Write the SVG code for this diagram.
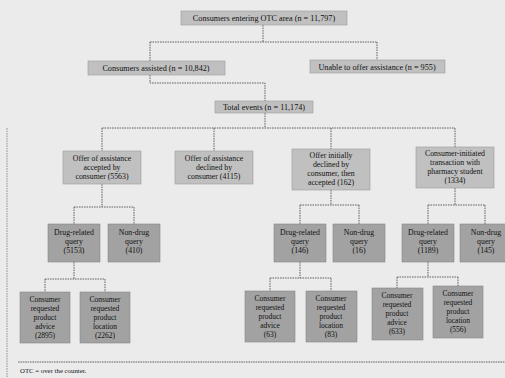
<svg xmlns="http://www.w3.org/2000/svg" width="505" height="378" viewBox="0 0 505 378">
<style>
.bg{fill:#ebebeb}
.b1{fill:#c0c0c0;stroke:#9a9a9a;stroke-width:0.6}
.b2{fill:#a2a2a2;stroke:#888;stroke-width:0.6}
.c{fill:none;stroke:#555;stroke-width:0.9;stroke-dasharray:1.6 0.9}
text{font-family:"Liberation Serif","Times New Roman",serif;fill:#111;text-anchor:middle}
.t8{font-size:8.2px}
.t7{font-size:7.8px}
.t6{font-size:7.5px}
.fn{font-size:6.8px;text-anchor:start}
</style>
<rect class="bg" x="0" y="0" width="505" height="378"/>
<g id="connectors">
<path class="c" d="M263,25 V42 M150,42 H377 M150,42 V61 M377,42 V60"/>
<path class="c" d="M150,75 V83 H265 V101"/>
<path class="c" d="M265,113 V128 M102,128 H455 M102,128 V151 M214,128 V151 M331,128 V149 M455,128 V147"/>
<path class="c" d="M102,184 V207 M74,207 H134 M74,207 V224 M134,207 V224"/>
<path class="c" d="M331,190 V205 M300,205 H359 M300,205 V224 M359,205 V224"/>
<path class="c" d="M455,188 V205 M428,205 H485 M428,205 V224 M485,205 V224"/>
<path class="c" d="M74,262 V279 M45,279 H105 M45,279 V292 M105,279 V292"/>
<path class="c" d="M300,262 V278 M270,278 H331 M270,278 V291 M331,278 V291"/>
<path class="c" d="M428,262 V277 M397,277 H458 M397,277 V288 M458,277 V286"/>
</g>
<g id="frame">
<line x1="7" y1="128" x2="7" y2="378" stroke="#777" stroke-width="0.8" stroke-dasharray="1.5 1"/>
<line x1="18" y1="362" x2="505" y2="362" stroke="#555" stroke-width="0.9" stroke-dasharray="1.6 0.8"/>
</g>
<g id="n-entering"><rect class="b1" x="181" y="11" width="166" height="14"/><text class="t8" x="264" y="21">Consumers entering OTC area (n = 11,797)</text></g>
<g id="n-assisted"><rect class="b1" x="88" y="61" width="137" height="14"/><text class="t8" x="156" y="71">Consumers assisted (n = 10,842)</text></g>
<g id="n-unable"><rect class="b1" x="310" y="60" width="135" height="13"/><text class="t8" x="377" y="69.5">Unable to offer assistance (n = 955)</text></g>
<g id="n-total"><rect class="b1" x="215" y="101" width="98" height="12"/><text class="t8" x="264" y="110">Total events (n = 11,174)</text></g>

<g id="n-accepted"><rect class="b1" x="63" y="151" width="78" height="33"/>
<text class="t7" x="102" y="161">Offer of assistance</text><text class="t7" x="102" y="170">accepted by</text><text class="t7" x="102" y="179">consumer (5563)</text></g>
<g id="n-declined"><rect class="b1" x="175" y="151" width="78" height="33"/>
<text class="t7" x="214" y="161">Offer of assistance</text><text class="t7" x="214" y="170">declined by</text><text class="t7" x="214" y="179">consumer (4115)</text></g>
<g id="n-initially"><rect class="b1" x="292" y="149" width="78" height="41"/>
<text class="t7" x="331" y="158">Offer initially</text><text class="t7" x="331" y="167">declined by</text><text class="t7" x="331" y="176">consumer, then</text><text class="t7" x="331" y="185">accepted (162)</text></g>
<g id="n-initiated"><rect class="b1" x="416" y="147" width="78" height="41"/>
<text class="t7" x="455" y="156">Consumer-initiated</text><text class="t7" x="455" y="165">transaction with</text><text class="t7" x="455" y="174">pharmacy student</text><text class="t7" x="455" y="183">(1334)</text></g>

<g id="n-a-drug"><rect class="b2" x="48" y="224" width="52" height="38"/>
<text class="t7" x="74" y="235">Drug-related</text><text class="t7" x="74" y="244">query</text><text class="t7" x="74" y="253">(5153)</text></g>
<g id="n-a-non"><rect class="b2" x="108" y="224" width="52" height="38"/>
<text class="t7" x="134" y="235">Non-drug</text><text class="t7" x="134" y="244">query</text><text class="t7" x="134" y="253">(410)</text></g>
<g id="n-c-drug"><rect class="b2" x="274" y="224" width="52" height="38"/>
<text class="t7" x="300" y="235">Drug-related</text><text class="t7" x="300" y="244">query</text><text class="t7" x="300" y="253">(146)</text></g>
<g id="n-c-non"><rect class="b2" x="333" y="224" width="52" height="38"/>
<text class="t7" x="359" y="235">Non-drug</text><text class="t7" x="359" y="244">query</text><text class="t7" x="359" y="253">(16)</text></g>
<g id="n-d-drug"><rect class="b2" x="402" y="224" width="52" height="38"/>
<text class="t7" x="428" y="235">Drug-related</text><text class="t7" x="428" y="244">query</text><text class="t7" x="428" y="253">(1189)</text></g>
<g id="n-d-non"><rect class="b2" x="460" y="224" width="52" height="38"/>
<text class="t7" x="486" y="235">Non-drug</text><text class="t7" x="486" y="244">query</text><text class="t7" x="486" y="253">(145)</text></g>

<g id="n-a-advice"><rect class="b2" x="20" y="292" width="50" height="51"/>
<text class="t6" x="45" y="302">Consumer</text><text class="t6" x="45" y="311">requested</text><text class="t6" x="45" y="320">product</text><text class="t6" x="45" y="329">advice</text><text class="t6" x="45" y="338">(2895)</text></g>
<g id="n-a-location"><rect class="b2" x="80" y="292" width="50" height="51"/>
<text class="t6" x="105" y="302">Consumer</text><text class="t6" x="105" y="311">requested</text><text class="t6" x="105" y="320">product</text><text class="t6" x="105" y="329">location</text><text class="t6" x="105" y="338">(2262)</text></g>
<g id="n-c-advice"><rect class="b2" x="245" y="291" width="50" height="51"/>
<text class="t6" x="270" y="301">Consumer</text><text class="t6" x="270" y="310">requested</text><text class="t6" x="270" y="319">product</text><text class="t6" x="270" y="328">advice</text><text class="t6" x="270" y="337">(63)</text></g>
<g id="n-c-location"><rect class="b2" x="306" y="291" width="51" height="51"/>
<text class="t6" x="331" y="301">Consumer</text><text class="t6" x="331" y="310">requested</text><text class="t6" x="331" y="319">product</text><text class="t6" x="331" y="328">location</text><text class="t6" x="331" y="337">(83)</text></g>
<g id="n-d-advice"><rect class="b2" x="372" y="288" width="51" height="52"/>
<text class="t6" x="397" y="298">Consumer</text><text class="t6" x="397" y="307">requested</text><text class="t6" x="397" y="316">product</text><text class="t6" x="397" y="325">advice</text><text class="t6" x="397" y="334">(633)</text></g>
<g id="n-d-location"><rect class="b2" x="433" y="286" width="50" height="52"/>
<text class="t6" x="458" y="296">Consumer</text><text class="t6" x="458" y="305">requested</text><text class="t6" x="458" y="314">product</text><text class="t6" x="458" y="323">location</text><text class="t6" x="458" y="332">(556)</text></g>

<text class="fn" x="20" y="373">OTC = over the counter.</text>
</svg>
